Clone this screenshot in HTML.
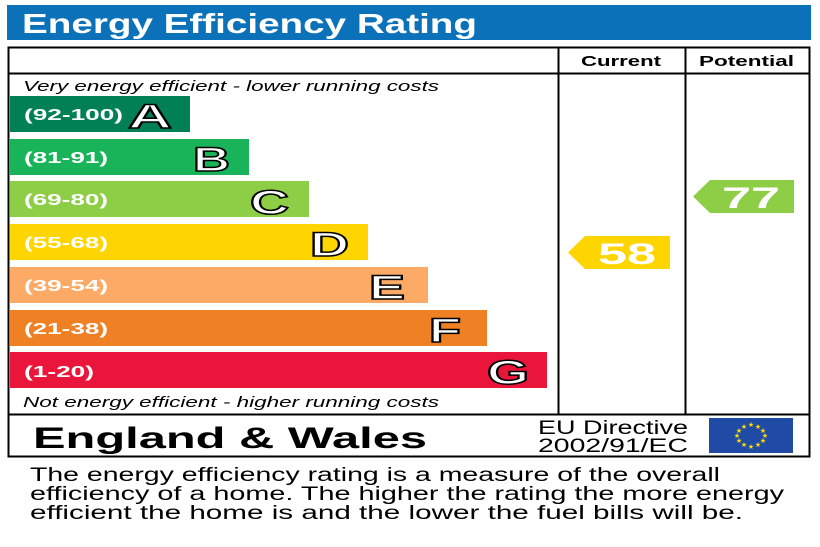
<!DOCTYPE html>
<html><head><meta charset="utf-8"><style>
body{margin:0;background:#fff;width:820px;height:547px;overflow:hidden}
svg{display:block}
</style></head><body>
<svg width="820" height="547" xmlns="http://www.w3.org/2000/svg" font-family="Liberation Sans, sans-serif">
<rect x="7" y="5" width="804" height="35" fill="#0b72b9"/>
<text x="22" y="33" font-size="28" font-weight="bold" fill="#fff" textLength="455" lengthAdjust="spacingAndGlyphs">Energy Efficiency Rating</text>
<rect x="8.5" y="47.5" width="801" height="409" fill="none" stroke="#000" stroke-width="2"/>
<line x1="8" y1="73.5" x2="810" y2="73.5" stroke="#000" stroke-width="2"/>
<line x1="8" y1="414.5" x2="810" y2="414.5" stroke="#000" stroke-width="2"/>
<line x1="558.5" y1="47" x2="558.5" y2="414" stroke="#000" stroke-width="2"/>
<line x1="685.5" y1="47" x2="685.5" y2="414" stroke="#000" stroke-width="2"/>
<text x="581" y="66" font-size="15" font-weight="bold" textLength="80" lengthAdjust="spacingAndGlyphs">Current</text>
<text x="699" y="66" font-size="15" font-weight="bold" textLength="95" lengthAdjust="spacingAndGlyphs">Potential</text>
<text x="23" y="91" font-size="15" font-style="italic" textLength="416" lengthAdjust="spacingAndGlyphs">Very energy efficient - lower running costs</text>
<text x="23" y="407" font-size="15" font-style="italic" textLength="416" lengthAdjust="spacingAndGlyphs">Not energy efficient - higher running costs</text>
<g font-weight="bold">
<rect x="10" y="96" width="180" height="36" fill="#008054"/>
<text x="24" y="120" font-size="16" fill="#fff" textLength="99" lengthAdjust="spacingAndGlyphs">(92-100)</text>
<text x="128" y="128" font-size="34" fill="#fff" stroke="#000" stroke-width="1.5" textLength="44" lengthAdjust="spacingAndGlyphs">A</text>
<rect x="10" y="139" width="239" height="36" fill="#19b459"/>
<text x="24" y="163" font-size="16" fill="#fff" textLength="84" lengthAdjust="spacingAndGlyphs">(81-91)</text>
<text x="193" y="171" font-size="34" fill="#fff" stroke="#000" stroke-width="1.5" textLength="37" lengthAdjust="spacingAndGlyphs">B</text>
<rect x="10" y="181" width="299" height="36" fill="#8dce46"/>
<text x="24" y="205" font-size="16" fill="#fff" textLength="84" lengthAdjust="spacingAndGlyphs">(69-80)</text>
<text x="250" y="214" font-size="34" fill="#fff" stroke="#000" stroke-width="1.5" textLength="39" lengthAdjust="spacingAndGlyphs">C</text>
<rect x="10" y="224" width="358" height="36" fill="#ffd500"/>
<text x="24" y="248" font-size="16" fill="#fff" textLength="84" lengthAdjust="spacingAndGlyphs">(55-68)</text>
<text x="310" y="256" font-size="34" fill="#fff" stroke="#000" stroke-width="1.5" textLength="39" lengthAdjust="spacingAndGlyphs">D</text>
<rect x="10" y="267" width="418" height="36" fill="#fcaa65"/>
<text x="24" y="291" font-size="16" fill="#fff" textLength="84" lengthAdjust="spacingAndGlyphs">(39-54)</text>
<text x="369" y="299" font-size="34" fill="#fff" stroke="#000" stroke-width="1.5" textLength="36" lengthAdjust="spacingAndGlyphs">E</text>
<rect x="10" y="310" width="477" height="36" fill="#ef8023"/>
<text x="24" y="334" font-size="16" fill="#fff" textLength="84" lengthAdjust="spacingAndGlyphs">(21-38)</text>
<text x="429" y="342" font-size="34" fill="#fff" stroke="#000" stroke-width="1.5" textLength="32" lengthAdjust="spacingAndGlyphs">F</text>
<rect x="10" y="352" width="537" height="36" fill="#e9153b"/>
<text x="24" y="377" font-size="16" fill="#fff" textLength="70" lengthAdjust="spacingAndGlyphs">(1-20)</text>
<text x="487" y="384" font-size="34" fill="#fff" stroke="#000" stroke-width="1.5" textLength="42" lengthAdjust="spacingAndGlyphs">G</text>
<polygon points="568,252.5 585,236 670,236 670,269 585,269" fill="#ffd500"/>
<text x="598" y="264" font-size="30" fill="#fff" textLength="58" lengthAdjust="spacingAndGlyphs">58</text>
<polygon points="693,196.5 710,180 794,180 794,213 710,213" fill="#8dce46"/>
<text x="722" y="208" font-size="30" fill="#fff" textLength="58" lengthAdjust="spacingAndGlyphs">77</text>
<text x="33" y="448" font-size="30" textLength="394" lengthAdjust="spacingAndGlyphs">England &amp; Wales</text>
</g>
<text x="538" y="434" font-size="19" textLength="150" lengthAdjust="spacingAndGlyphs">EU Directive</text>
<text x="538" y="452" font-size="19" textLength="150" lengthAdjust="spacingAndGlyphs">2002/91/EC</text>
<rect x="709" y="418" width="84" height="35" fill="#1f4aa5"/>
<g fill="#ffdd00" font-size="7" text-anchor="middle">
<text x="751" y="427">★</text><text x="758" y="429">★</text><text x="763" y="433">★</text><text x="765" y="438">★</text><text x="763" y="443">★</text><text x="758" y="447">★</text><text x="751" y="449">★</text><text x="744" y="447">★</text><text x="739" y="443">★</text><text x="737" y="438">★</text><text x="739" y="433">★</text><text x="744" y="429">★</text>
</g>
<g font-size="19">
<text x="30" y="481" textLength="690" lengthAdjust="spacingAndGlyphs">The energy efficiency rating is a measure of the overall</text>
<text x="30" y="500" textLength="754" lengthAdjust="spacingAndGlyphs">efficiency of a home.  The higher the rating the more energy</text>
<text x="30" y="519" textLength="713" lengthAdjust="spacingAndGlyphs">efficient the home is and the lower the fuel bills will be.</text>
</g>
</svg>
</body></html>
